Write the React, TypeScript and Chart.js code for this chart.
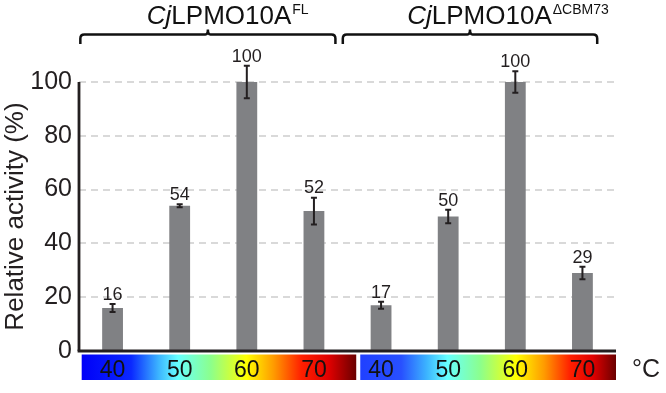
import React, { useEffect, useRef } from 'react';
import { Chart, registerables } from 'chart.js';

Chart.register(...registerables);

const FONT = '"Liberation Sans", Arial, Helvetica, sans-serif';

const categories = ['FL 40', 'FL 50', 'FL 60', 'FL 70', 'dCBM73 40', 'dCBM73 50', 'dCBM73 60', 'dCBM73 70'];
const activity = [16, 54, 100, 52, 17, 50, 100, 29];
const errors = [1.5, 0.6, 6, 5, 1.3, 2.5, 4, 2.3];
const valueLabels = ['16', '54', '100', '52', '17', '50', '100', '29'];
const yTicks = [0, 20, 40, 60, 80, 100];
const temperatureLabels = ['40', '50', '60', '70', '40', '50', '60', '70'];
const groupPrefix = ['Cj', 'Cj'];
const groupName = ['LPMO10A', 'LPMO10A'];
const groupSup = ['FL', 'ΔCBM73'];
const unitLabel = '°C';
const yTitle = 'Relative activity (%)';

const INK = '#231f20';

const jetStops1: [number, string][] = [
  [0, '#0000f8'],
  [0.18, '#0a28ff'],
  [0.28, '#3cb4ff'],
  [0.35, '#66ffff'],
  [0.47, '#8cff8c'],
  [0.6, '#ffff00'],
  [0.7, '#ff9a00'],
  [0.8, '#ff2000'],
  [0.9, '#e00000'],
  [1, '#6a0000'],
];
const jetStops2: [number, string][] = [
  [0, '#2040ff'],
  [0.16, '#2850ff'],
  [0.26, '#3cb4ff'],
  [0.34, '#66ffff'],
  [0.47, '#8cff8c'],
  [0.61, '#ffff00'],
  [0.72, '#ff9a00'],
  [0.82, '#ff2000'],
  [0.91, '#e00000'],
  [1, '#6a0000'],
];

function drawBrace(ctx: CanvasRenderingContext2D, x0: number, x1: number) {
  const yLine = 34.5;
  const yEnd = 44;
  const tickTop = 29.5;
  const mid = (x0 + x1) / 2;
  ctx.beginPath();
  ctx.moveTo(x0, yEnd);
  ctx.lineTo(x0, yLine + 4);
  ctx.quadraticCurveTo(x0, yLine, x0 + 4, yLine);
  ctx.lineTo(mid - 2.5, yLine);
  ctx.quadraticCurveTo(mid, yLine, mid, tickTop);
  ctx.quadraticCurveTo(mid, yLine, mid + 2.5, yLine);
  ctx.lineTo(x1 - 4, yLine);
  ctx.quadraticCurveTo(x1, yLine, x1, yLine + 4);
  ctx.lineTo(x1, yEnd);
  ctx.stroke();
}

const overlay = {
  id: 'overlay',
  afterDatasetsDraw(chart: any) {
    const { ctx, chartArea: a, scales } = chart;
    const x = scales.x;
    const y = scales.y;
    const meta = chart.getDatasetMeta(0);
    const c = (i: number) => x.getPixelForValue(i);
    const step = c(1) - c(0);

    ctx.save();
    // axes
    ctx.strokeStyle = INK;
    ctx.lineWidth = 2.8;
    ctx.lineCap = 'butt';
    ctx.setLineDash([]);
    ctx.beginPath();
    ctx.moveTo(a.left, a.top);
    ctx.lineTo(a.left, a.bottom);
    ctx.stroke();
    ctx.beginPath();
    ctx.moveTo(a.left - 1.4, a.bottom);
    ctx.lineTo(a.right, a.bottom);
    ctx.stroke();

    // error bars + value labels
    ctx.lineWidth = 2;
    ctx.fillStyle = INK;
    ctx.font = `18px ${FONT}`;
    ctx.textAlign = 'center';
    ctx.textBaseline = 'alphabetic';
    meta.data.forEach((bar: any, i: number) => {
      const xc = bar.x;
      const top = y.getPixelForValue(activity[i] + errors[i]);
      const bot = y.getPixelForValue(activity[i] - errors[i]);
      ctx.beginPath();
      ctx.moveTo(xc, top);
      ctx.lineTo(xc, bot);
      ctx.moveTo(xc - 3, top);
      ctx.lineTo(xc + 3, top);
      ctx.moveTo(xc - 3, bot);
      ctx.lineTo(xc + 3, bot);
      ctx.stroke();
      ctx.fillText(valueLabels[i], xc, top - 4.2);
    });

    // braces
    ctx.strokeStyle = '#111111';
    ctx.lineWidth = 2.5;
    drawBrace(ctx, c(0) - 0.48 * step, c(3) + 0.32 * step);
    drawBrace(ctx, c(4) - 0.57 * step, c(7) + 0.22 * step);

    // group titles
    ctx.fillStyle = '#111111';
    const titleStarts = [c(0) + 0.51 * step, c(4) + 0.39 * step];
    titleStarts.forEach((sx, g) => {
      let px = sx;
      ctx.textAlign = 'left';
      ctx.font = `italic 26px ${FONT}`;
      ctx.fillText(groupPrefix[g], px, 23.5);
      px += ctx.measureText(groupPrefix[g]).width;
      ctx.font = `26px ${FONT}`;
      ctx.fillText(groupName[g], px, 23.5);
      px += ctx.measureText(groupName[g]).width + 1;
      ctx.font = `14px ${FONT}`;
      ctx.fillText(groupSup[g], px, 14);
    });

    // colour bars
    const segs = [
      [c(0) - 0.46 * step, c(3) + 0.63 * step],
      [c(4) - 0.31 * step, c(7) + 0.5 * step],
    ];
    const stopsets = [jetStops1, jetStops2];
    const cbTop = 354.5;
    const cbBot = 380;
    segs.forEach(([s0, s1], k) => {
      const grad = ctx.createLinearGradient(s0, 0, s1, 0);
      stopsets[k].forEach(([p, col]) => grad.addColorStop(p, col));
      ctx.fillStyle = grad;
      ctx.fillRect(s0, cbTop, s1 - s0, cbBot - cbTop);
    });
    ctx.fillStyle = '#111111';
    ctx.font = `23px ${FONT}`;
    ctx.textAlign = 'center';
    temperatureLabels.forEach((t, i) => {
      ctx.fillText(t, c(i), 376.5);
    });
    ctx.textAlign = 'left';
    ctx.fillStyle = INK;
    ctx.font = `25px ${FONT}`;
    ctx.fillText(unitLabel, a.right + 16, 376.5);

    ctx.restore();
  },
};

export default function App() {
  const ref = useRef<HTMLCanvasElement | null>(null);
  useEffect(() => {
    if (!ref.current) return;
    const chart = new Chart(ref.current, {
      type: 'bar',
      data: {
        labels: categories,
        datasets: [
          {
            data: activity,
            backgroundColor: '#808184',
            borderWidth: 0,
            barPercentage: 0.31,
            categoryPercentage: 1,
          },
        ],
      },
      options: {
        responsive: false,
        animation: false,
        devicePixelRatio: 1,
        layout: { padding: { top: 82, right: 50, left: 0, bottom: 0 } },
        plugins: { legend: { display: false }, tooltip: { enabled: false } },
        scales: {
          x: {
            grid: { display: false },
            border: { display: false },
            ticks: { display: false },
            afterFit: (s: any) => {
              s.height = 42;
            },
          },
          y: {
            min: 0,
            max: 100,
            afterBuildTicks: (s: any) => {
              s.ticks = yTicks.map((v) => ({ value: v }));
            },
            ticks: { padding: 7, font: { size: 25, family: FONT }, color: INK },
            grid: {
              color: (ctx: any) => (ctx.tick && ctx.tick.value === 0 ? 'rgba(0,0,0,0)' : '#d9d9d9'),
              lineWidth: 2,
              drawTicks: false,
            },
            border: { display: false, dash: [7, 5] },
            title: {
              display: true,
              text: yTitle,
              font: { size: 26, family: FONT },
              color: INK,
              padding: 0,
            },
            afterFit: (s: any) => {
              s.width = 79;
            },
          },
        },
      },
      plugins: [overlay],
    });
    return () => chart.destroy();
  }, []);
  return (
    <div style={{ position: 'absolute', left: 0, top: 0, width: 666, height: 393, background: '#fff' }}>
      <canvas ref={ref} width={666} height={393} style={{ display: 'block' }} />
    </div>
  );
}
